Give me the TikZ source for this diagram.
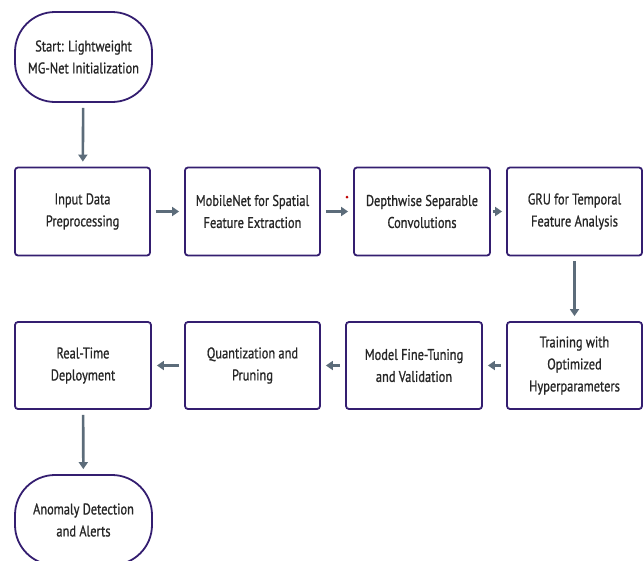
\documentclass[tikz,border=0pt]{standalone}
\usepackage{fontspec}
\setmainfont{PT Sans}[FakeStretch=0.8,FakeBold=0.9]
\usetikzlibrary{arrows.meta}
\definecolor{boxline}{RGB}{52,30,112}
\definecolor{arrowgray}{RGB}{92,108,122}

\begin{document}
\begin{tikzpicture}[x=1pt,y=-1pt,
  box/.style={draw=boxline,line width=1.8pt,rounded corners=3pt,minimum width=135pt,minimum height=88pt,
    align=center,inner sep=0pt,text=black!85,font=\fontsize{15.5}{22}\selectfont},
  term/.style={box,rounded corners=40pt,minimum width=137pt,minimum height=90pt},
  flow/.style={draw=arrowgray,line width=2.6pt,-{Triangle[length=7pt,width=9pt]},shorten >=5pt,shorten <=5pt}]
\useasboundingbox (0,0) rectangle (643,560);
\node[term] (start) at (83.5,57) {Start: Lightweight\\MG-Net Initialization};
\node[box] (prep) at (82.5,211.5) {Input Data\\Preprocessing};
\node[box] (mobile) at (252.5,211.5) {MobileNet for Spatial\\Feature Extraction};
\node[box,minimum width=136pt] (depth) at (422,211.5) {Depthwise Separable\\Convolutions};
\node[box] (gru) at (574.5,211.5) {GRU for Temporal\\Feature Analysis};
\node[box,minimum height=87pt] (train) at (574.5,365.5) {Training with\\Optimized\\Hyperparameters};
\node[box,minimum width=136pt,minimum height=87pt] (tune) at (414,365.5) {Model Fine-Tuning\\and Validation};
\node[box,minimum height=87pt] (quant) at (252.5,365.5) {Quantization and\\Pruning};
\node[box,minimum width=136pt,minimum height=87pt] (deploy) at (83,365.5) {Real-Time\\Deployment};
\node[term] (alert) at (83.5,520) {Anomaly Detection\\and Alerts};
\fill[red!75!black] (347,197) circle (1.5pt);
\draw[flow] (start) -- (prep);
\draw[flow] (prep) -- (mobile);
\draw[flow] (mobile) -- (depth);
\draw[flow,shorten >=4pt,shorten <=2pt] (depth) -- (gru);
\draw[flow] (gru) -- (train);
\draw[flow] (train) -- (tune);
\draw[flow] (tune) -- (quant);
\draw[flow] (quant) -- (deploy);
\draw[flow] (deploy) -- (alert);
\end{tikzpicture}
\end{document}
